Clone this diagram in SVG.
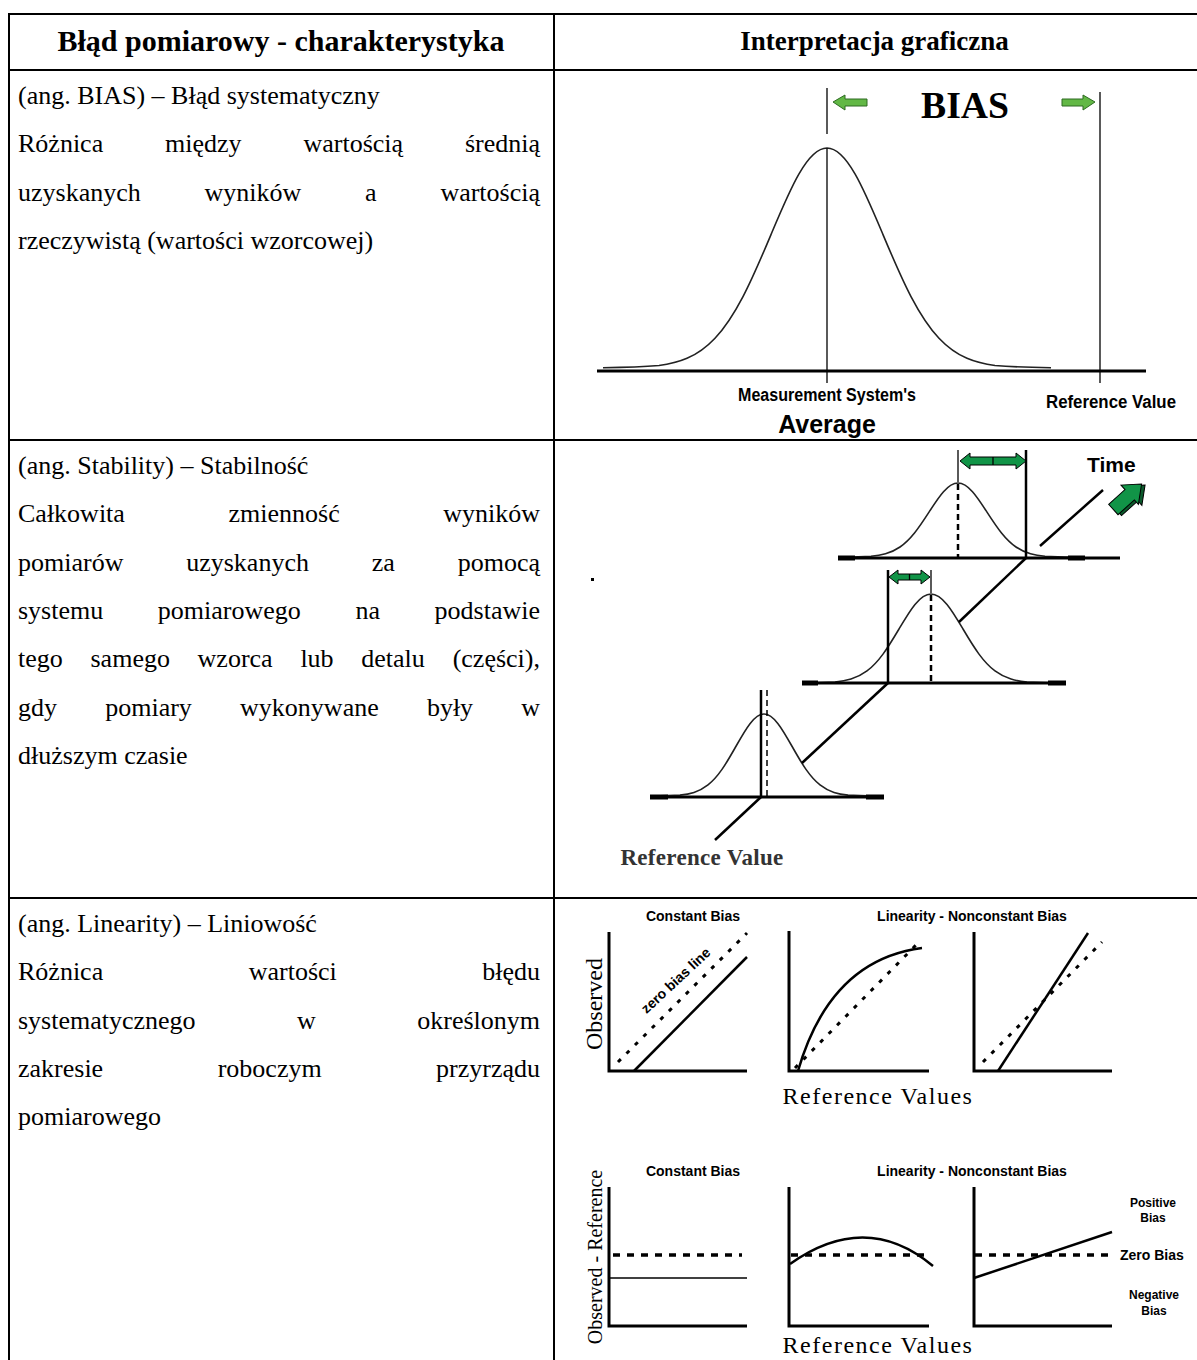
<svg xmlns="http://www.w3.org/2000/svg" xmlns:xlink="http://www.w3.org/1999/xlink" width="1197" height="1360" viewBox="0 0 1197 1360">
<style>
.body{font-family:"Liberation Serif","Times New Roman",serif;font-size:26px;fill:#000}
.hdr{font-family:"Liberation Serif","Times New Roman",serif;font-weight:bold;fill:#000}
.sans{font-family:"Liberation Sans",Arial,sans-serif;font-weight:bold;fill:#000}
.ser{font-family:"Liberation Serif","Times New Roman",serif;fill:#000}
.grid{stroke:#000;stroke-width:2;fill:none}
.ax{stroke:#000;stroke-width:3;fill:none}
.ln{stroke:#000;stroke-width:2.5;fill:none}
.thin{stroke:#000;stroke-width:1.3;fill:none}
.bell{fill:none;stroke:#222;stroke-width:1.6}
.dash{stroke:#000;stroke-width:3;fill:none;stroke-dasharray:4,8}
.hd{stroke:#000;stroke-width:3.5;fill:none;stroke-dasharray:7,7}
.garrow{fill:#119447;stroke:#000;stroke-width:1}
.larrow{fill:#62b845;stroke:#2e6b22;stroke-width:1}
</style>
<defs>
<path id="bellc" vector-effect="non-scaling-stroke" d="M-40,-0.1 C-35,-0.3 -32,-0.7 -30,-1.11 C-28.33,-1.67 -26.67,-2.56 -25,-4.39 C-23.33,-6.22 -21.67,-9.02 -20,-13.53 C-18.33,-18.04 -16.67,-24.35 -15,-32.47 C-13.33,-40.59 -11.67,-50.54 -10,-60.65 C-8.33,-70.76 -6.67,-80.90 -5,-88.25 C-3.33,-95.60 -1.67,-100 0,-100 C1.67,-100 3.33,-95.60 5,-88.25 C6.67,-80.90 8.33,-70.76 10,-60.65 C11.67,-50.54 13.33,-40.59 15,-32.47 C16.67,-24.35 18.33,-18.04 20,-13.53 C21.67,-9.02 23.33,-6.22 25,-4.39 C26.67,-2.56 28.33,-1.67 30,-1.11 C32,-0.7 35,-0.3 40,-0.1"/>
</defs>
<rect width="1197" height="1360" fill="#fff"/>

<g id="table">
<line class="grid" x1="9" y1="14" x2="1197" y2="14"/>
<line class="grid" x1="9" y1="70" x2="1197" y2="70"/>
<line class="grid" x1="9" y1="440" x2="1197" y2="440"/>
<line class="grid" x1="9" y1="898" x2="1197" y2="898"/>
<line class="grid" x1="9" y1="13" x2="9" y2="1360"/>
<line class="grid" x1="554" y1="13" x2="554" y2="1360"/>
</g>

<g id="header">
<text class="hdr" x="281" y="51" font-size="30" text-anchor="middle">Błąd pomiarowy - charakterystyka</text>
<text class="hdr" x="874.5" y="50" font-size="27" text-anchor="middle">Interpretacja graficzna</text>
</g>

<g id="row-bias-text" class="body">
<text x="18" y="104">(ang. BIAS) – Błąd systematyczny</text>
<text y="152.3"><tspan x="18">Różnica</tspan><tspan x="165.1">między</tspan><tspan x="303.5">wartością</tspan><tspan x="540" text-anchor="end">średnią</tspan></text>
<text y="200.6"><tspan x="18">uzyskanych</tspan><tspan x="204.5">wyników</tspan><tspan x="365.1">a</tspan><tspan x="540" text-anchor="end">wartością</tspan></text>
<text x="18" y="248.9">rzeczywistą (wartości wzorcowej)</text>
</g>

<g id="row-stability-text" class="body">
<text x="18" y="474">(ang. Stability) – Stabilność</text>
<text y="522.3"><tspan x="18">Całkowita</tspan><tspan x="228.5">zmienność</tspan><tspan x="540" text-anchor="end">wyników</tspan></text>
<text y="570.6"><tspan x="18">pomiarów</tspan><tspan x="186.2">uzyskanych</tspan><tspan x="371.7">za</tspan><tspan x="540" text-anchor="end">pomocą</tspan></text>
<text y="618.9"><tspan x="18">systemu</tspan><tspan x="157.8">pomiarowego</tspan><tspan x="355.4">na</tspan><tspan x="540" text-anchor="end">podstawie</tspan></text>
<text y="667.2"><tspan x="18">tego</tspan><tspan x="90.5">samego</tspan><tspan x="197.6">wzorca</tspan><tspan x="300.4">lub</tspan><tspan x="361.3">detalu</tspan><tspan x="540" text-anchor="end">(części),</tspan></text>
<text y="715.5"><tspan x="18">gdy</tspan><tspan x="105.2">pomiary</tspan><tspan x="240.1">wykonywane</tspan><tspan x="426.9">były</tspan><tspan x="540" text-anchor="end">w</tspan></text>
<text x="18" y="763.8">dłuższym czasie</text>
</g>

<g id="row-linearity-text" class="body">
<text x="18" y="932">(ang. Linearity) – Liniowość</text>
<text y="980.3"><tspan x="18">Różnica</tspan><tspan x="248.7">wartości</tspan><tspan x="540" text-anchor="end">błędu</tspan></text>
<text y="1028.6"><tspan x="18">systematycznego</tspan><tspan x="297">w</tspan><tspan x="540" text-anchor="end">określonym</tspan></text>
<text y="1076.9"><tspan x="18">zakresie</tspan><tspan x="217.7">roboczym</tspan><tspan x="540" text-anchor="end">przyrządu</tspan></text>
<text x="18" y="1125.2">pomiarowego</text>
</g>

<g id="bias-graphic">
<use href="#bellc" xlink:href="#bellc" class="bell" transform="translate(827,368) scale(5.6,2.2)"/>
<line class="ax" x1="597" y1="371" x2="1146" y2="371"/>
<line class="thin" x1="827" y1="88" x2="827" y2="134"/>
<line class="thin" x1="827" y1="148" x2="827" y2="383"/>
<line class="thin" x1="1100" y1="92" x2="1100" y2="383"/>
<polygon class="larrow" points="833,102 845,95 845,99 867,99 867,106 845,106 845,110"/>
<polygon class="larrow" points="1095,102 1083,95 1083,99 1062,99 1062,106 1083,106 1083,110"/>
<text class="ser" x="921" y="118" font-size="38" font-weight="bold" textLength="88" lengthAdjust="spacingAndGlyphs">BIAS</text>
<text class="sans" x="827" y="401" font-size="18" text-anchor="middle" textLength="178" lengthAdjust="spacingAndGlyphs">Measurement System's</text>
<text class="sans" x="827" y="433" font-size="25" text-anchor="middle">Average</text>
<text class="sans" x="1111" y="408" font-size="18" text-anchor="middle" textLength="130" lengthAdjust="spacingAndGlyphs">Reference Value</text>
</g>

<g id="stability-graphic">
<rect x="591" y="578" width="3" height="3" fill="#000"/>
<use href="#bellc" xlink:href="#bellc" class="bell" transform="translate(958,557) scale(2.9,0.74)"/>
<use href="#bellc" xlink:href="#bellc" class="bell" transform="translate(931,683) scale(3.2,0.89)"/>
<use href="#bellc" xlink:href="#bellc" class="bell" transform="translate(764,796) scale(2.8,0.82)"/>
<line class="ax" x1="838" y1="558" x2="1120" y2="558"/>
<line class="ax" x1="802" y1="683" x2="1066" y2="683"/>
<line class="ax" x1="650" y1="797" x2="884" y2="797"/>
<line stroke="#000" stroke-width="5" x1="838" y1="558" x2="855" y2="558"/>
<line stroke="#000" stroke-width="5" x1="1068" y1="558" x2="1085" y2="558"/>
<line stroke="#000" stroke-width="5" x1="802" y1="683" x2="818" y2="683"/>
<line stroke="#000" stroke-width="5" x1="1048" y1="683" x2="1066" y2="683"/>
<line stroke="#000" stroke-width="5" x1="650" y1="797" x2="668" y2="797"/>
<line stroke="#000" stroke-width="5" x1="866" y1="797" x2="884" y2="797"/>
<line class="ln" x1="1026" y1="450" x2="1026" y2="558"/>
<line class="thin" x1="958" y1="450" x2="958" y2="482"/>
<line stroke="#000" stroke-width="2.5" stroke-dasharray="6,4" x1="958" y1="484" x2="958" y2="558"/>
<line class="ln" x1="888" y1="570" x2="888" y2="683"/>
<line class="thin" x1="931" y1="570" x2="931" y2="593"/>
<line stroke="#000" stroke-width="2.5" stroke-dasharray="6,4" x1="931" y1="595" x2="931" y2="683"/>
<line class="ln" x1="761" y1="690" x2="761" y2="797"/>
<line stroke="#000" stroke-width="1.5" stroke-dasharray="6,4" x1="767" y1="690" x2="767" y2="797"/>
<line class="ln" x1="761" y1="797" x2="715" y2="840"/>
<line class="ln" x1="802" y1="763" x2="888" y2="683"/>
<line class="ln" x1="959" y1="622" x2="1026" y2="558"/>
<line class="ln" x1="1040" y1="546" x2="1103" y2="490"/>
<polygon class="garrow" points="960,461 970,453 970,457 1016,457 1016,453 1026,461 1016,469 1016,465 970,465 970,469"/>
<line class="thin" x1="993" y1="457" x2="993" y2="465"/>
<polygon class="garrow" points="889,577 898,570 898,574 921,574 921,570 930,577 921,584 921,580 898,580 898,584"/>
<line class="thin" x1="909.5" y1="574" x2="909.5" y2="580"/>
<g transform="translate(1112,508) rotate(-42)">
<polygon points="2,-2 24,-2 24,-8 40,5 24,18 24,12 2,12" fill="#0b5a2c" stroke="#000" stroke-width="1"/>
<polygon class="garrow" points="0,-5 22,-5 22,-11 38,2 22,15 22,9 0,9"/>
</g>
<text class="sans" x="1087" y="472" font-size="21">Time</text>
<text class="ser" x="702" y="865" font-size="23" font-weight="bold" text-anchor="middle" letter-spacing="0.3" style="fill:#333">Reference Value</text>
</g>

<g id="linearity-graphic">
<text class="sans" x="693" y="921" font-size="14" text-anchor="middle">Constant Bias</text>
<text class="sans" x="972" y="921" font-size="14" text-anchor="middle">Linearity - Nonconstant Bias</text>
<text class="ser" transform="translate(602,1004) rotate(-90)" font-size="24" text-anchor="middle">Observed</text>
<path class="ax" d="M609,932 V1071 H747"/>
<path class="ax" d="M789,931 V1071 H929"/>
<path class="ax" d="M974,932 V1071 H1112"/>
<line class="ln" x1="634" y1="1071" x2="747" y2="957"/>
<line class="dash" x1="618" y1="1062" x2="747" y2="933"/>
<text class="sans" transform="translate(679,984) rotate(-43)" font-size="14" text-anchor="middle">zero bias line</text>
<path class="ln" d="M798,1071 Q830,960 922,948"/>
<line class="dash" x1="795" y1="1068" x2="918" y2="943"/>
<line class="ln" x1="998" y1="1071" x2="1088" y2="933"/>
<line class="dash" x1="983" y1="1062" x2="1102" y2="942"/>
<text class="ser" x="878" y="1104" font-size="24" text-anchor="middle" letter-spacing="1.5">Reference Values</text>

<text class="sans" x="693" y="1176" font-size="14" text-anchor="middle">Constant Bias</text>
<text class="sans" x="972" y="1176" font-size="14" text-anchor="middle">Linearity - Nonconstant Bias</text>
<text class="ser" transform="translate(602,1257) rotate(-90)" font-size="20" text-anchor="middle">Observed - Reference</text>
<path class="ax" d="M609,1187 V1326 H747"/>
<path class="ax" d="M789,1187 V1326 H929"/>
<path class="ax" d="M974,1187 V1326 H1112"/>
<line class="hd" x1="613" y1="1255" x2="742" y2="1255"/>
<line class="thin" x1="609" y1="1278" x2="747" y2="1278"/>
<line class="hd" x1="791" y1="1255" x2="925" y2="1255"/>
<path class="ln" d="M790,1264 Q866,1210 933,1266"/>
<line class="hd" x1="975" y1="1255" x2="1108" y2="1255"/>
<line class="ln" x1="974" y1="1278" x2="1112" y2="1232"/>
<text class="sans" x="1153" y="1207" font-size="12" text-anchor="middle">Positive</text>
<text class="sans" x="1153" y="1222" font-size="12" text-anchor="middle">Bias</text>
<text class="sans" x="1120" y="1260" font-size="14">Zero Bias</text>
<text class="sans" x="1154" y="1299" font-size="12" text-anchor="middle">Negative</text>
<text class="sans" x="1154" y="1315" font-size="12" text-anchor="middle">Bias</text>
<text class="ser" x="878" y="1353" font-size="24" text-anchor="middle" letter-spacing="1.5">Reference Values</text>
</g>
</svg>
